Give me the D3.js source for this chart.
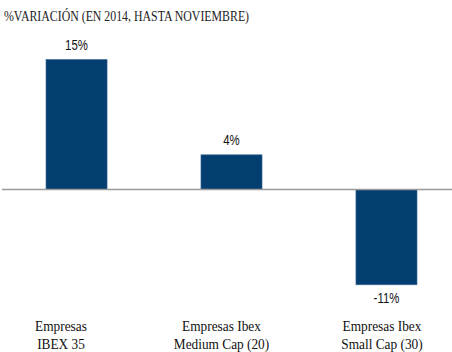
<!DOCTYPE html>
<html>
<head>
<meta charset="utf-8">
<script src="https://cdn.jsdelivr.net/npm/d3@7"></script>
<style>
  body { margin: 0; background: #fff; }
  svg { display: block; }
</style>
</head>
<body>
<div id="chart"></div>
<script>
// % variación en 2014 (hasta noviembre)
const categories = ["IBEX 35", "Medium Cap", "Small Cap"];
const values = [15, 4, -11];
const valueLabels = ["15%", "4%", "-11%"];
const catLabels = [
    ["Empresas", "IBEX 35"],
    ["Empresas Ibex", "Medium Cap  (20)"],
    ["Empresas Ibex", "Small Cap (30)"]
];
const title = "%VARIACIÓN (EN 2014, HASTA NOVIEMBRE)";

const width = 452, height = 352;
const barColor = "#023f70";
const serif = "'Liberation Serif', 'Times New Roman', serif";
const sans = "'Liberation Sans', Arial, sans-serif";

const svg = d3.select("#chart").append("svg")
    .attr("width", width).attr("height", height);

const x = d3.scaleBand().domain(categories)
    .range([46, 417]).paddingInner(0.606).paddingOuter(0);
const xLabel = d3.scalePoint().domain(categories).range([61, 382]);
const y = d3.scaleLinear().domain([-11, 15]).range([284.8, 59.5]);

// condensed text helper
function squeeze(sel, cx, cy, sx) {
    sel.attr("transform", `translate(${cx},${cy}) scale(${sx},1)`);
    return sel;
}

// title
squeeze(svg.append("text"), 4, 21, 0.79)
    .style("font-family", serif)
    .attr("font-size", 15).attr("fill", "#222")
    .text(title);

// bars
svg.selectAll("rect.bar")
    .data(values)
    .join("rect").attr("class", "bar")
    .attr("x", (d, i) => x(categories[i]))
    .attr("width", x.bandwidth())
    .attr("y", d => y(Math.max(0, d)))
    .attr("height", d => Math.abs(y(d) - y(0)))
    .attr("fill", barColor)
    .attr("stroke", "#3d6a93").attr("stroke-width", 0.6);

// zero line
svg.append("line")
    .attr("x1", 2).attr("x2", width)
    .attr("y1", y(0)).attr("y2", y(0))
    .attr("stroke", "#9a9a9a").attr("stroke-width", 1.5);

// value labels
values.forEach((v, i) => {
    const cx = x(categories[i]) + x.bandwidth() / 2;
    const cy = v >= 0 ? y(v) - 9.5 : y(v) + 18.5;
    squeeze(svg.append("text"), cx, cy, 0.76)
        .attr("text-anchor", "middle")
        .style("font-family", sans)
        .attr("font-size", 15).attr("fill", "#111")
        .text(valueLabels[i]);
});

// category labels
catLabels.forEach((lines, i) => {
    lines.forEach((t, j) => {
        squeeze(svg.append("text"), xLabel(categories[i]), 331 + j * 18, 0.86)
            .attr("text-anchor", "middle")
            .style("font-family", serif)
            .attr("font-size", 15.5).attr("fill", "#111")
            .text(t);
    });
});
</script>
</body>
</html>
